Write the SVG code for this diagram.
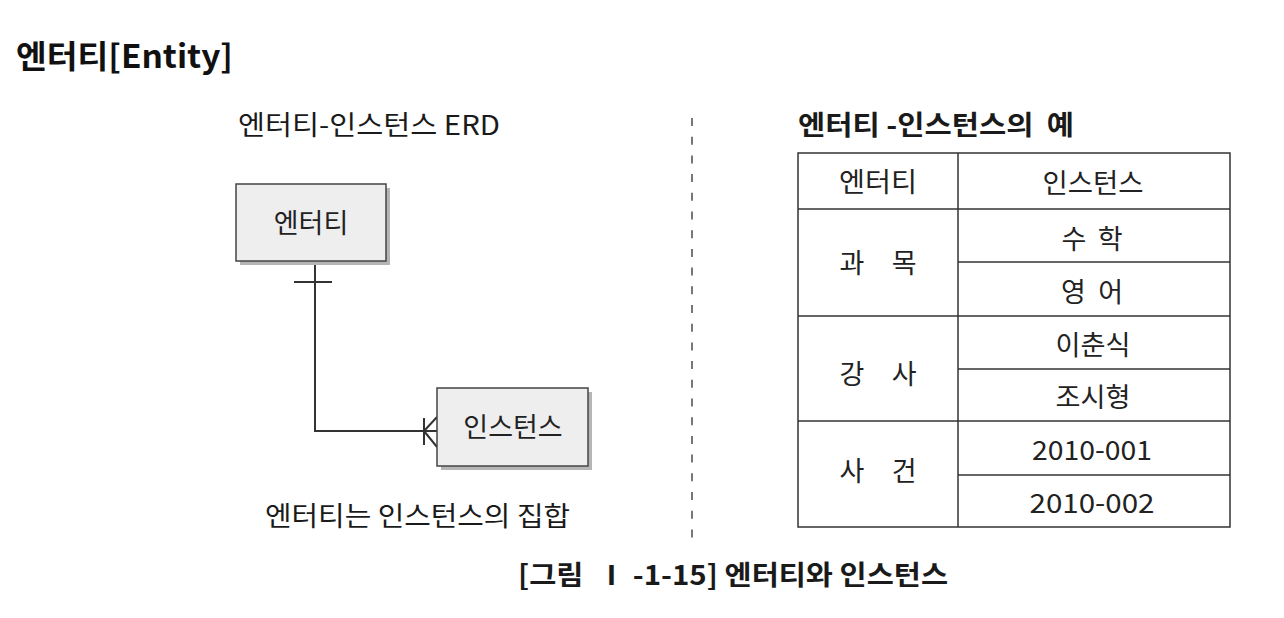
<svg xmlns="http://www.w3.org/2000/svg" width="1284" height="618" viewBox="0 0 1284 618">
<style>
  text { font-family: "Noto Sans CJK KR", "Noto Sans", sans-serif; fill: #1a1a1a; }
  .h1 { font-size: 32px; font-weight: 700; fill: #111; }
  .sub { font-size: 27px; font-weight: 400; }
  .bold { font-weight: 700; }
  .t { font-size: 27px; text-anchor: middle; dominant-baseline: central; fill: #222; }
  .box { fill: #eeeeee; stroke: #444; stroke-width: 1.5; }
  .shadow { fill: #b5b5b5; }
  .ln { stroke: #333; stroke-width: 2; fill: none; }
  .grid { stroke: #333; stroke-width: 1.5; fill: none; }
</style>
<rect width="1284" height="618" fill="#ffffff"/>

<text class="h1" x="16" y="68" textLength="217" lengthAdjust="spacingAndGlyphs">엔터티[Entity]</text>

<text class="sub" x="238" y="135" textLength="262" lengthAdjust="spacingAndGlyphs">엔터티-인스턴스 ERD</text>
<text class="sub bold" x="798" y="135" textLength="276" lengthAdjust="spacingAndGlyphs" style="white-space:pre">엔터티 -인스턴스의  예</text>

<line x1="692" y1="118" x2="692" y2="545" stroke="#777" stroke-width="2" stroke-dasharray="8 10.7"/>

<g id="connectors">
  <polyline class="ln" points="315,261 315,431 437,431"/>
  <line class="ln" x1="294" y1="282" x2="332" y2="282"/>
  <line class="ln" x1="424" y1="418" x2="424" y2="445"/>
  <line class="ln" x1="424" y1="431" x2="437" y2="417"/>
  <line class="ln" x1="424" y1="431" x2="437" y2="447"/>
</g>

<g id="entity">
  <rect class="shadow" x="240" y="188" width="150" height="77"/>
  <rect class="box" x="236" y="184" width="150" height="77"/>
  <text class="t" x="311" y="221">엔터티</text>
</g>

<g id="instance">
  <rect class="shadow" x="441" y="392" width="151" height="78"/>
  <rect class="box" x="437" y="388" width="151" height="78"/>
  <text class="t" x="513" y="425">인스턴스</text>
</g>

<text class="sub" x="265" y="526" textLength="305" lengthAdjust="spacingAndGlyphs">엔터티는 인스턴스의 집합</text>

<g id="table">
  <rect class="grid" x="798" y="153" width="432" height="374"/>
  <line class="grid" x1="958" y1="153" x2="958" y2="527"/>
  <line class="grid" x1="798" y1="209" x2="1230" y2="209"/>
  <line class="grid" x1="958" y1="262" x2="1230" y2="262"/>
  <line class="grid" x1="798" y1="316" x2="1230" y2="316"/>
  <line class="grid" x1="958" y1="369" x2="1230" y2="369"/>
  <line class="grid" x1="798" y1="421" x2="1230" y2="421"/>
  <line class="grid" x1="958" y1="475" x2="1230" y2="475"/>
  <text class="t" x="878" y="180" textLength="78" lengthAdjust="spacingAndGlyphs">엔터티</text>
  <text class="t" x="1093" y="181" textLength="101" lengthAdjust="spacingAndGlyphs">인스턴스</text>
  <text class="t" x="878" y="261" textLength="77" lengthAdjust="spacing">과 목</text>
  <text class="t" x="1092" y="237" textLength="61" lengthAdjust="spacing">수 학</text>
  <text class="t" x="1092" y="290" textLength="62" lengthAdjust="spacing">영 어</text>
  <text class="t" x="878" y="372" textLength="77" lengthAdjust="spacing">강 사</text>
  <text class="t" x="1093" y="343" textLength="75" lengthAdjust="spacingAndGlyphs">이춘식</text>
  <text class="t" x="1093" y="395" textLength="75" lengthAdjust="spacingAndGlyphs">조시형</text>
  <text class="t" x="878" y="469" textLength="77" lengthAdjust="spacing">사 건</text>
  <text class="t" x="1092" y="448" textLength="120" lengthAdjust="spacingAndGlyphs">2010-001</text>
  <text class="t" x="1092" y="501" textLength="125" lengthAdjust="spacingAndGlyphs">2010-002</text>
</g>

<text class="sub bold" x="518" y="585" textLength="430" lengthAdjust="spacingAndGlyphs" style="white-space:pre">[그림  Ⅰ -1-15] 엔터티와 인스턴스</text>
</svg>
